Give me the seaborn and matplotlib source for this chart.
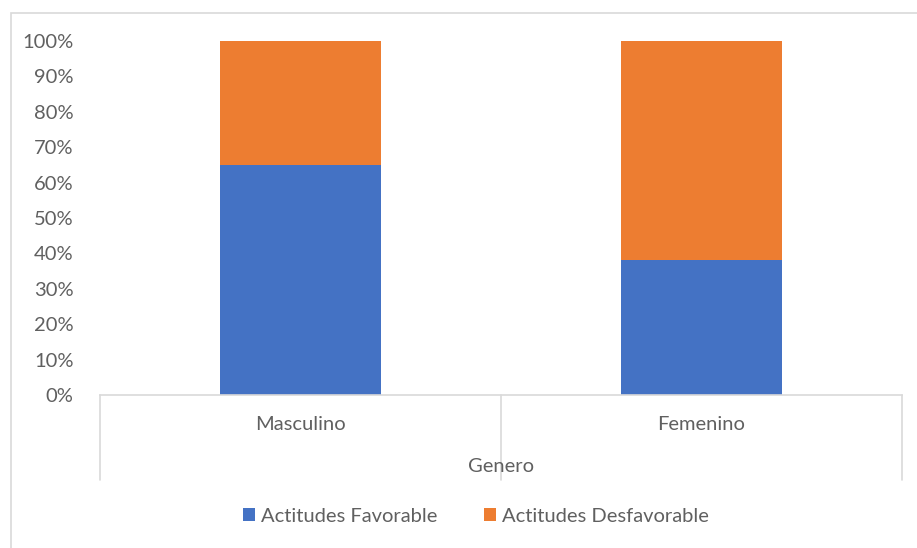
import matplotlib
matplotlib.use("Agg")
import matplotlib.pyplot as plt
import matplotlib.transforms as mtransforms
from matplotlib.patches import Rectangle, Patch
import pandas as pd
import seaborn as sns

categories = ["Masculino", "Femenino"]
favorable = [0.65, 0.38]
desfavorable = [0.35, 0.62]
series_names = ["Actitudes Favorable", "Actitudes Desfavorable"]
y_ticks = [0.0, 0.1, 0.2, 0.3, 0.4, 0.5, 0.6, 0.7, 0.8, 0.9, 1.0]
y_tick_labels = [f"{int(round(t * 100))}%" for t in y_ticks]
axis_title = "Genero"

BLUE = "#4472c4"
ORANGE = "#ed7d31"
TEXT = "#606060"
LINE = "#d9d9d9"
FS = 14.5

sns.set_theme(style="white")
plt.rcParams["font.family"] = ["Lato", "DejaVu Sans"]

W, H = 917, 548
fig = plt.figure(figsize=(W / 100, H / 100), dpi=100)
fig.patch.set_facecolor("white")

# plot area in pixel coordinates
x0, x1 = 100, 902
y_top, y_bot = 41, 395
ax = fig.add_axes([x0 / W, 1 - y_bot / H, (x1 - x0) / W, (y_bot - y_top) / H])

df = pd.DataFrame({
    "Genero": categories,
    "favorable": favorable,
    "total": [f + d for f, d in zip(favorable, desfavorable)],
})

sns.barplot(data=df, x="Genero", y="total", color=ORANGE, width=0.4,
            saturation=1, ax=ax, order=categories, linewidth=0)
sns.barplot(data=df, x="Genero", y="favorable", color=BLUE, width=0.4,
            saturation=1, ax=ax, order=categories, linewidth=0)

ax.set_xlim(-0.5, 1.5)
ax.set_ylim(0, 1)
ax.set_yticks(y_ticks)
ax.set_yticklabels(y_tick_labels, color=TEXT, fontsize=FS)
ax.tick_params(axis="y", length=0, pad=19)
ax.set_xticks([])
ax.set_xlabel("")
ax.set_ylabel("")
for s in ["top", "right", "left"]:
    ax.spines[s].set_visible(False)
ax.spines["bottom"].set_color(LINE)
ax.spines["bottom"].set_linewidth(1.2)

# category box: separators below the axis
trans = mtransforms.blended_transform_factory(ax.transData, fig.transFigure)
for xv in [-0.5, 0.5, 1.5]:
    ax.plot([xv, xv], [1 - y_bot / H, 1 - 480 / H], color=LINE, lw=1.2,
            transform=trans, clip_on=False)

for i, c in enumerate(categories):
    fig.text((x0 + (x1 - x0) * (i + 0.5) / 2) / W, 1 - 424 / H, c,
             ha="center", va="center", color=TEXT, fontsize=FS)
fig.text((x0 + x1) / 2 / W, 1 - 467 / H, axis_title,
         ha="center", va="center", color=TEXT, fontsize=FS)

handles = [Patch(facecolor=BLUE, edgecolor="none"),
           Patch(facecolor=ORANGE, edgecolor="none")]
leg = fig.legend(handles, series_names, loc="center",
                 bbox_to_anchor=(476 / W, 1 - 516 / H), ncol=2, frameon=False,
                 fontsize=FS, handlelength=0.6, handleheight=0.6,
                 handletextpad=0.3, columnspacing=2.3)
for t in leg.get_texts():
    t.set_color(TEXT)

# chart border
fig.patches.append(Rectangle((11 / W, -5 / H), (W + 5 - 11) / W, (H - 13 + 5) / H,
                             transform=fig.transFigure, fill=False,
                             edgecolor=LINE, lw=1.2))

fig.savefig("out.png", dpi=100, facecolor="white")
